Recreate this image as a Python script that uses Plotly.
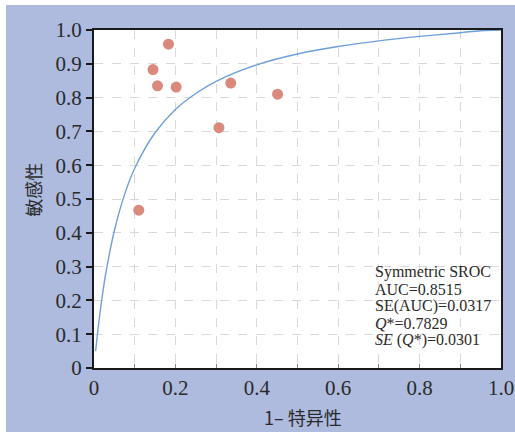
import plotly.graph_objects as go

# study points (1 - specificity, sensitivity)
study_fpr = [0.183, 0.145, 0.156, 0.202, 0.336, 0.451, 0.307, 0.110]
study_tpr = [0.958, 0.883, 0.835, 0.831, 0.843, 0.810, 0.711, 0.467]

# symmetric SROC curve
curve_fpr = [0.004, 0.01, 0.02, 0.03, 0.05, 0.075, 0.1, 0.15, 0.2, 0.25, 0.3, 0.4, 0.5, 0.6, 0.7, 0.8, 0.9, 0.95, 1.0]
curve_tpr = [0.050, 0.116, 0.210, 0.287, 0.406, 0.513, 0.591, 0.696, 0.765, 0.812, 0.848, 0.897, 0.929, 0.951, 0.968, 0.981, 0.992, 0.998, 1.0]

y_tickvals = [0, 0.1, 0.2, 0.3, 0.4, 0.5, 0.6, 0.7, 0.8, 0.9, 1.0]
y_ticktext = ["0", "0.1", "0.2", "0.3", "0.4", "0.5", "0.6", "0.7", "0.8", "0.9", "1.0"]
x_tickvals = [0, 0.2, 0.4, 0.6, 0.8, 1.0]
x_ticktext = ["0", "0.2", "0.4", "0.6", "0.8", "1.0"]

stats_lines = ["Symmetric SROC", "AUC=0.8515", "SE(AUC)=0.0317",
               "<i>Q</i>*=0.7829", "<i>SE</i> (<i>Q</i>*)=0.0301"]

FONT = "Liberation Serif"
CJK = "Noto Sans CJK SC"
BLUE = "#aebbde"
TXT = "#2a2a2a"

fig = go.Figure()
fig.add_trace(go.Scatter(x=curve_fpr, y=curve_tpr, mode="lines",
                         line=dict(color="#6f9fd8", width=1.4, shape="spline"),
                         hoverinfo="skip", showlegend=False))
fig.add_trace(go.Scatter(x=study_fpr, y=study_tpr, mode="markers",
                         marker=dict(color="#da897c", size=11, line=dict(width=0)),
                         showlegend=False))

# background panel and white plot area
fig.add_shape(type="rect", xref="paper", yref="paper", x0=-0.2162, x1=1.05,
              y0=-0.21, y1=1.074, fillcolor=BLUE, line=dict(width=0), layer="below")
fig.add_shape(type="rect", xref="paper", yref="paper", x0=0, x1=1, y0=0, y1=1,
              fillcolor="white", line=dict(width=0), layer="below")

for i, t in enumerate(stats_lines):
    fig.add_annotation(x=0.6855, y=0.284 - 0.0503 * i, xref="paper", yref="paper",
                       text=t, showarrow=False, xanchor="left", yanchor="middle",
                       font=dict(family=FONT, size=16, color=TXT))

# axis titles (CJK)
fig.add_annotation(x=0.5135, y=-0.145, xref="paper", yref="paper", text="1– 特异性",
                   showarrow=False, xanchor="center", yanchor="middle",
                   font=dict(family=CJK, size=18, color=TXT))
fig.add_annotation(x=-0.15, y=0.527, xref="paper", yref="paper", text="敏感性",
                   showarrow=False, xanchor="center", yanchor="middle", textangle=-90,
                   font=dict(family=CJK, size=18, color=TXT))

fig.update_layout(
    width=515, height=432,
    margin=dict(l=94, r=14, t=30, b=64, autoexpand=False),
    paper_bgcolor="white", plot_bgcolor="white",
    font=dict(family=FONT, size=21, color=TXT),
    showlegend=False,
)

fig.update_xaxes(range=[0, 1], tickvals=x_tickvals, ticktext=x_ticktext, automargin=False,
                 showgrid=True, gridcolor="#d9d9d9", griddash="dash", gridwidth=1,
                 showline=True, linecolor="#1a1a1a", linewidth=2, mirror=True,
                 ticks="inside", ticklen=4, tickcolor="#888888",
                 minor=dict(dtick=0.1, tick0=0, showgrid=True, gridcolor="#d9d9d9",
                            griddash="dash", ticks="inside", ticklen=4, tickcolor="#888888"),
                 zeroline=False,
                 tickfont=dict(family=FONT, size=21, color=TXT))
fig.update_yaxes(range=[0, 1], tickvals=y_tickvals, ticktext=y_ticktext, automargin=False,
                 showgrid=True, gridcolor="#d9d9d9", griddash="dash", gridwidth=1,
                 showline=True, linecolor="#1a1a1a", linewidth=2, mirror=True,
                 ticks="outside", ticklen=6, tickcolor="#1a1a1a", tickwidth=2,
                 zeroline=False,
                 tickfont=dict(family=FONT, size=21, color=TXT))

fig.write_html("out.html", config={"displayModeBar": False},
               post_script="document.body.style.margin='0';document.body.style.overflow='hidden';")
